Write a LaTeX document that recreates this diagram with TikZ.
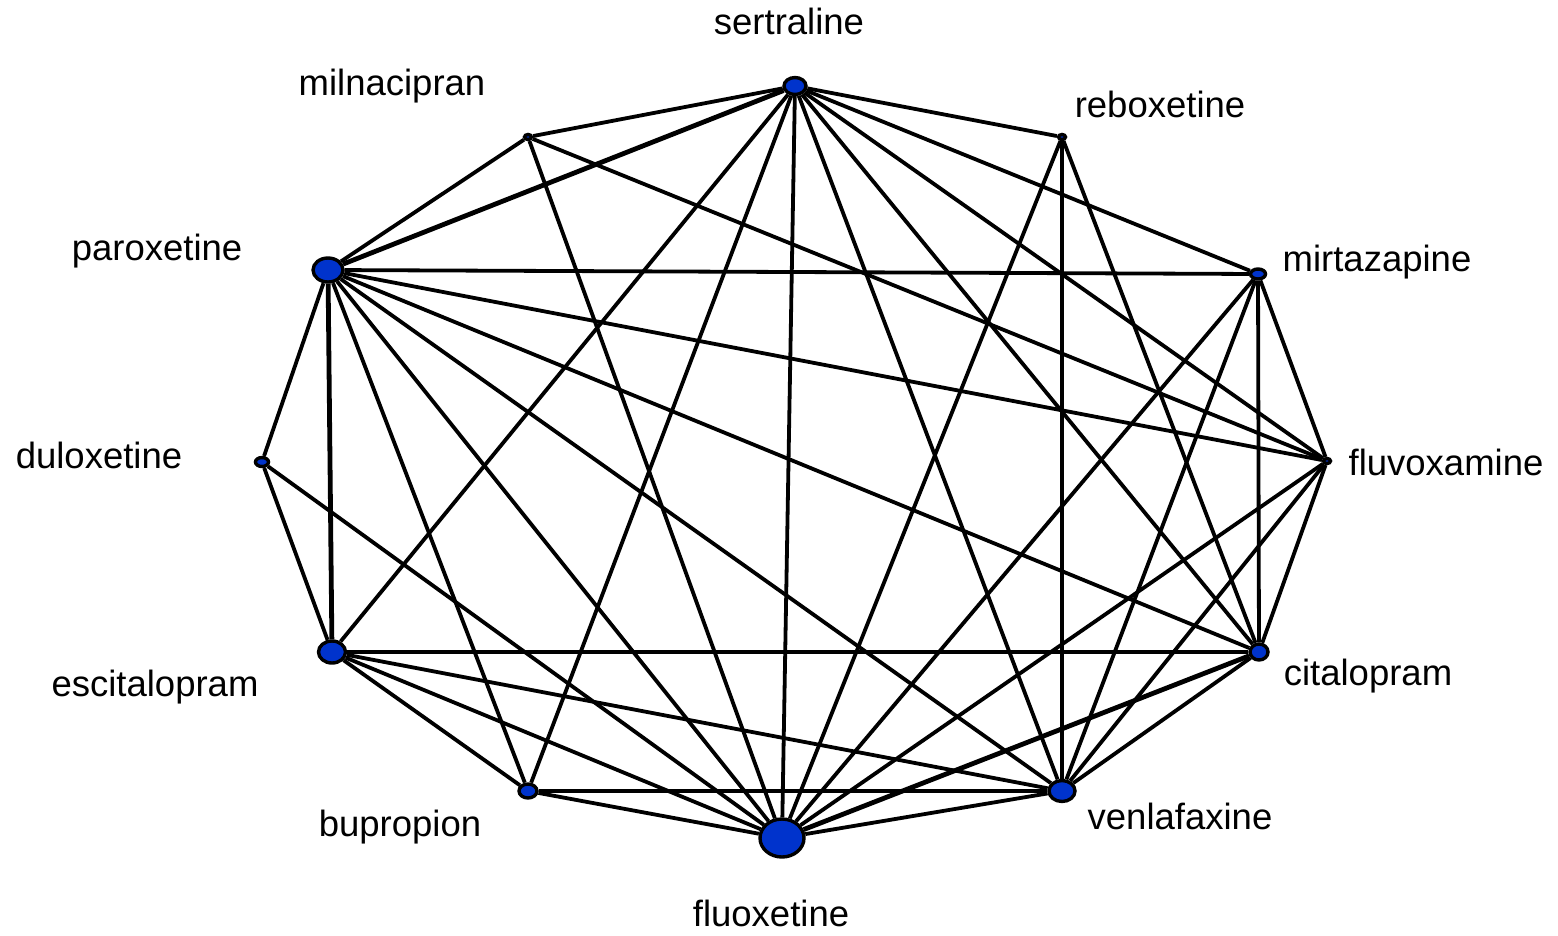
\documentclass[tikz,border=0pt]{standalone}
\usepackage{fontspec}
\setmainfont{Liberation Sans}
\usetikzlibrary{shapes.geometric,backgrounds}
\definecolor{drugblue}{RGB}{0,51,204}
\begin{document}
\begin{tikzpicture}[x=1pt,y=-1pt,
  drug/.style={ellipse,draw=black,line width=3.4pt,fill=drugblue,inner sep=0pt},
  lbl/.style={font=\fontsize{36.5}{40}\selectfont,anchor=base,inner sep=0pt},
  link/.style={line width=3.8pt,black},
  heavy/.style={line width=4.8pt,black}]
\useasboundingbox (0,0) rectangle (1558,935);
% treatments
\node[drug,minimum width=22pt,minimum height=17pt] (ser) at (795,86) {};
\node[drug,minimum width=7pt,minimum height=5pt] (mil) at (528,137) {};
\node[drug,minimum width=7pt,minimum height=5pt] (reb) at (1062,137) {};
\node[drug,minimum width=30pt,minimum height=24pt] (par) at (328,270) {};
\node[drug,minimum width=15pt,minimum height=10pt] (mir) at (1258,274) {};
\node[drug,minimum width=13pt,minimum height=9pt] (dul) at (262,462) {};
\node[drug,minimum width=7pt,minimum height=5pt] (fvx) at (1327,461) {};
\node[drug,minimum width=27pt,minimum height=22pt] (esc) at (332,652) {};
\node[drug,minimum width=18pt,minimum height=16pt] (cit) at (1259,652) {};
\node[drug,minimum width=18pt,minimum height=14pt] (bup) at (528,791) {};
\node[drug,minimum width=26pt,minimum height=21pt] (ven) at (1062,791) {};
\node[drug,minimum width=44pt,minimum height=38pt] (flu) at (782,838) {};
% names
\node[lbl] (lser) at (789,34) {sertraline};
\node[lbl] (lmil) at (392,95) {milnacipran};
\node[lbl] (lreb) at (1160,117) {reboxetine};
\node[lbl] (lpar) at (157,260) {paroxetine};
\node[lbl] (lmir) at (1377,271) {mirtazapine};
\node[lbl] (ldul) at (99,468) {duloxetine};
\node[lbl] (lfvx) at (1446,475) {fluvoxamine};
\node[lbl] (lesc) at (155,696) {escitalopram};
\node[lbl] (lcit) at (1368,685) {citalopram};
\node[lbl] (lbup) at (400,836) {bupropion};
\node[lbl] (lven) at (1180,829) {venlafaxine};
\node[lbl] (lflu) at (771,926) {fluoxetine};
% comparisons
\begin{pgfonlayer}{background}
\draw[link] (ser) -- (mil);
\draw[link] (ser) -- (reb);
\draw[heavy] (ser) -- (par);
\draw[link] (ser) -- (mir);
\draw[link] (ser) -- (fvx);
\draw[link] (ser) -- (cit);
\draw[link] (ser) -- (ven);
\draw[link] (ser) -- (flu);
\draw[link] (ser) -- (bup);
\draw[link] (ser) -- (esc);
\draw[link] (mil) -- (par);
\draw[link] (mil) -- (fvx);
\draw[link] (mil) -- (flu);
\draw[link] (reb) -- (ven);
\draw[link] (reb) -- (cit);
\draw[link] (reb) -- (flu);
\draw[link] (par) -- (mir);
\draw[link] (par) -- (fvx);
\draw[link] (par) -- (cit);
\draw[link] (par) -- (ven);
\draw[link] (par) -- (flu);
\draw[link] (par) -- (bup);
\draw[heavy] (par) -- (esc);
\draw[link] (par) -- (dul);
\draw[link] (mir) -- (fvx);
\draw[link] (mir) -- (cit);
\draw[link] (mir) -- (ven);
\draw[link] (mir) -- (flu);
\draw[link] (dul) -- (esc);
\draw[link] (dul) -- (flu);
\draw[link] (fvx) -- (cit);
\draw[link] (fvx) -- (ven);
\draw[link] (fvx) -- (flu);
\draw[link] (esc) -- (cit);
\draw[link] (esc) -- (ven);
\draw[link] (esc) -- (flu);
\draw[link] (esc) -- (bup);
\draw[link] (cit) -- (ven);
\draw[heavy] (cit) -- (flu);
\draw[link] (bup) -- (flu);
\draw[heavy] (bup) -- (ven);
\draw[link] (ven) -- (flu);
\end{pgfonlayer}
\end{tikzpicture}
\end{document}
